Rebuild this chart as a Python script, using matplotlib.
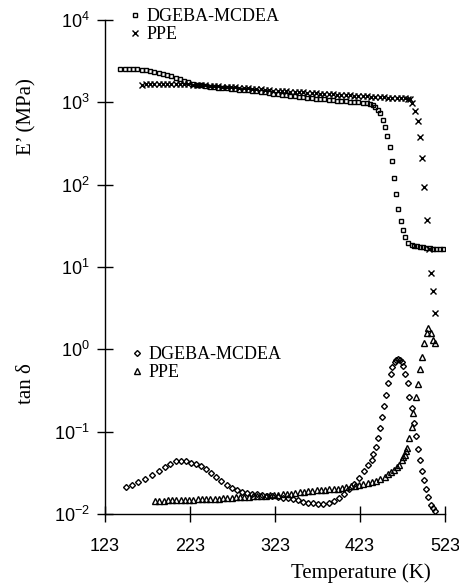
import matplotlib
matplotlib.use("Agg")
import matplotlib.pyplot as plt

plt.rcParams['mathtext.fontset'] = 'custom'
plt.rcParams['mathtext.rm'] = 'Liberation Sans'
plt.rcParams['mathtext.it'] = 'Liberation Sans'

# ---------------- data ----------------
# Storage modulus E' (MPa), DGEBA-MCDEA (squares)
T_E_dgeba = [141, 146, 151, 156, 161, 166, 171, 176, 181, 186, 191, 196, 201, 206, 211,
             216, 221, 226, 231, 236, 241, 246, 251, 256, 261, 266, 271, 276, 281, 286,
             291, 296, 301, 306, 311, 316, 321, 326, 331, 336, 341, 346, 351, 356, 361,
             366, 371, 376, 381, 386, 391, 396, 401, 406, 411, 416, 421, 426, 431, 435,
             438, 441, 444, 446.5, 449.7, 452.4, 455.1, 458.3, 461, 463, 465.4, 468,
             470.9, 473.2, 475.9, 479.8, 483.8, 487, 490, 494, 497.5, 501, 505, 509,
             513, 517, 521]
E_dgeba = [2541, 2559, 2570, 2570, 2541, 2495, 2455, 2421, 2355, 2291, 2239, 2163, 2065,
           1982, 1905, 1828, 1758, 1690, 1637, 1603, 1578, 1556, 1535, 1514, 1496, 1479,
           1462, 1445, 1429, 1413, 1396, 1380, 1358, 1340, 1318, 1295, 1274, 1252, 1232,
           1216, 1202, 1186, 1169, 1153, 1138, 1122, 1109, 1096, 1084, 1072, 1064, 1052,
           1042, 1030, 1019, 1009, 1000, 993, 986, 966, 929, 871, 807, 736, 610, 506,
           390, 284, 194, 122, 76.6, 50.4, 36.2, 28.1, 23.3, 19.4, 18.5, 18.2, 18.0,
           17.7, 17.3, 17.1, 16.9, 16.7, 16.5, 16.4, 16.4]

# Storage modulus E' (MPa), PPE (crosses)
T_E_ppe = [166, 171, 176, 181, 186, 191, 196, 201, 206, 211, 216, 221, 226, 231, 236,
           241, 246, 251, 256, 261, 266, 271, 276, 281, 286, 291, 296, 301, 306, 311,
           316, 321, 326, 331, 336, 341, 346, 351, 356, 361, 366, 371, 376, 381, 386,
           391, 396, 401, 406, 411, 416, 421, 426, 431, 436, 441, 446, 451, 456, 461,
           466, 471, 476, 479, 481.8, 484.5, 487.7, 490.9, 493.6, 496, 498.3, 501.5,
           504.5, 506.2, 508.5, 511.2]
E_ppe = [1644, 1660, 1667, 1671, 1675, 1675, 1675, 1671, 1667, 1663, 1660, 1652, 1644,
         1633, 1622, 1610, 1596, 1585, 1570, 1556, 1542, 1531, 1521, 1507, 1493, 1479,
         1466, 1452, 1435, 1419, 1403, 1390, 1380, 1371, 1361, 1352, 1343, 1334, 1324,
         1312, 1300, 1288, 1276, 1265, 1256, 1247, 1239, 1230, 1222, 1213, 1205, 1197,
         1191, 1186, 1175, 1164, 1156, 1148, 1143, 1138, 1135, 1130, 1122, 1109, 1089,
         973, 785, 598, 376, 209, 94.4, 37.2, 16.4, 8.5, 5.15, 2.79]

# tan delta, DGEBA-MCDEA (diamonds)
T_tan_dgeba = [148, 155, 162, 170, 178, 186, 194, 200, 206, 212, 218, 224, 230, 236,
               242, 248, 254, 260, 266, 272, 278, 284, 290, 296, 302, 308, 314, 320,
               326, 332, 338, 344, 350, 356, 362, 368, 374, 380, 386, 392, 398, 404,
               410, 416, 422, 428, 432, 436.8, 438.7, 441.5, 443.8, 446.5, 448.5,
               451.2, 453.6, 456.3, 459.1, 461, 463.8, 465.5, 467.4, 469.5, 472, 474,
               476, 479.1, 481, 483.8, 486.5, 488.5, 491.6, 493.6, 495.6, 498.3, 500.6,
               503.4, 506.2, 508.5, 511.2]
tan_dgeba = [0.0211, 0.0226, 0.0245, 0.0269, 0.0299, 0.0333, 0.0372, 0.0407, 0.0435,
             0.0442, 0.0437, 0.0422, 0.0403, 0.0380, 0.0351, 0.0316, 0.0282, 0.0251,
             0.0226, 0.0209, 0.0195, 0.0185, 0.0180, 0.0176, 0.0173, 0.0170, 0.0167,
             0.0165, 0.0162, 0.0158, 0.0156, 0.0151, 0.0146, 0.0141, 0.0137, 0.0135,
             0.0133, 0.0134, 0.0137, 0.0145, 0.0155, 0.0174, 0.0200, 0.0232, 0.0275,
             0.0331, 0.0389, 0.0453, 0.0531, 0.0656, 0.0830, 0.110, 0.152, 0.205,
             0.279, 0.386, 0.498, 0.615, 0.708, 0.750, 0.767, 0.750, 0.708, 0.627,
             0.498, 0.386, 0.266, 0.192, 0.129, 0.0885, 0.0611, 0.0453, 0.0336,
             0.0259, 0.0201, 0.0160, 0.0129, 0.0117, 0.0110]

# tan delta, PPE (triangles)
T_tan_ppe = [182, 187, 192, 197, 202, 207, 212, 217, 222, 227, 232, 237, 242, 247, 252,
             257, 262, 267, 272, 277, 282, 287, 292, 297, 302, 307, 312, 317, 322, 327,
             332, 337, 342, 347, 352, 357, 362, 367, 372, 377, 382, 387, 392, 397, 402,
             407, 412, 417, 422, 427, 432, 437, 442, 447, 452, 456, 460, 463, 466, 469,
             472, 474, 476, 477, 478.7, 481, 483.8, 485, 488.9, 491.6, 493.6, 495.5,
             498.6, 501.5, 503.4, 506.2, 508.5, 511.2]
tan_ppe = [0.0143, 0.0144, 0.0145, 0.0146, 0.0147, 0.0147, 0.0148, 0.0149, 0.0149,
           0.0150, 0.0151, 0.0151, 0.0152, 0.0153, 0.0153, 0.0154, 0.0155, 0.0156,
           0.0158, 0.0159, 0.0160, 0.0161, 0.0163, 0.0164, 0.0165, 0.0166, 0.0167,
           0.0168, 0.0170, 0.0171, 0.0173, 0.0175, 0.0177, 0.0180, 0.0183, 0.0186,
           0.0188, 0.0191, 0.0193, 0.0195, 0.0197, 0.0200, 0.0202, 0.0204, 0.0207,
           0.0211, 0.0216, 0.0221, 0.0226, 0.0232, 0.0237, 0.0244, 0.0252, 0.0266,
           0.0285, 0.0302, 0.0324, 0.0347, 0.0372, 0.0398, 0.0453, 0.0497, 0.0521,
           0.0589, 0.0628, 0.0830, 0.115, 0.167, 0.261, 0.379, 0.571, 0.800, 1.20,
           1.59, 1.80, 1.57, 1.30, 1.18]

x_ticks = [123, 223, 323, 423, 523]
y_ticks = [1e-2, 1e-1, 1e0, 1e1, 1e2, 1e3, 1e4]
y_tick_labels = [r'$\mathregular{10^{-2}}$', r'$\mathregular{10^{-1}}$', r'$\mathregular{10^{0}}$',
                 r'$\mathregular{10^{1}}$', r'$\mathregular{10^{2}}$', r'$\mathregular{10^{3}}$',
                 r'$\mathregular{10^{4}}$']
legend_E = ['DGEBA-MCDEA', 'PPE']
legend_tan = ['DGEBA-MCDEA', 'PPE']

# ---------------- figure ----------------
W, H = 460, 583
fig = plt.figure(figsize=(W / 100, H / 100), dpi=100)
ax = fig.add_axes([105 / W, 69 / H, 340 / W, 494 / H])
ax.set_yscale('log')
ax.set_xlim(123, 523)
ax.set_ylim(1e-2, 1e4)

common = dict(linestyle='none', color='black', mfc='none', mew=1.0)
h1, = ax.plot(T_E_dgeba, E_dgeba, marker='s', ms=3.4, **common)
h2, = ax.plot(T_E_ppe, E_ppe, marker='x', ms=3.8, **common)
h3, = ax.plot(T_tan_dgeba, tan_dgeba, marker='D', ms=3.0, **common)
h4, = ax.plot(T_tan_ppe, tan_ppe, marker='^', ms=3.7, **common)

for s in ['top', 'right']:
    ax.spines[s].set_visible(False)
for s in ['left', 'bottom']:
    ax.spines[s].set_linewidth(1.0)

ax.set_xticks(x_ticks)
ax.set_xticklabels([str(t) for t in x_ticks])
ax.set_yticks(y_ticks)
ax.set_yticklabels(y_tick_labels)
ax.minorticks_off()
ax.tick_params(axis='both', direction='inout', length=12, width=1.0, labelsize=13)
ax.tick_params(axis='x', pad=11)
ax.tick_params(axis='y', pad=5)
for lab in ax.get_xticklabels() + ax.get_yticklabels():
    lab.set_fontfamily('Liberation Sans')

serif = 'Liberation Serif'
fig.text(27 / W, 1 - 117 / H, 'E\u2019 (MPa)', rotation=90, ha='center', va='center',
         fontsize=15, family=serif)
fig.text(27 / W, 1 - 384 / H, 'tan \u03b4', rotation=90, ha='center', va='center',
         fontsize=15, family=serif)
fig.text(361 / W, 1 - 573 / H, 'Temperature (K)', ha='center', va='center',
         fontsize=15, family=serif)

leg_kw = dict(frameon=False, prop={'family': serif, 'size': 13}, handlelength=0.4,
              handletextpad=0.45, borderpad=0, borderaxespad=0, labelspacing=0.07,
              numpoints=1, loc='upper left')
leg1 = ax.legend([h1, h2], legend_E, bbox_to_anchor=(0.0776, 1.024), **leg_kw)
ax.add_artist(leg1)
ax.legend([h3, h4], legend_tan, bbox_to_anchor=(0.0835, 0.340), **leg_kw)

fig.savefig('out.png', dpi=100)
